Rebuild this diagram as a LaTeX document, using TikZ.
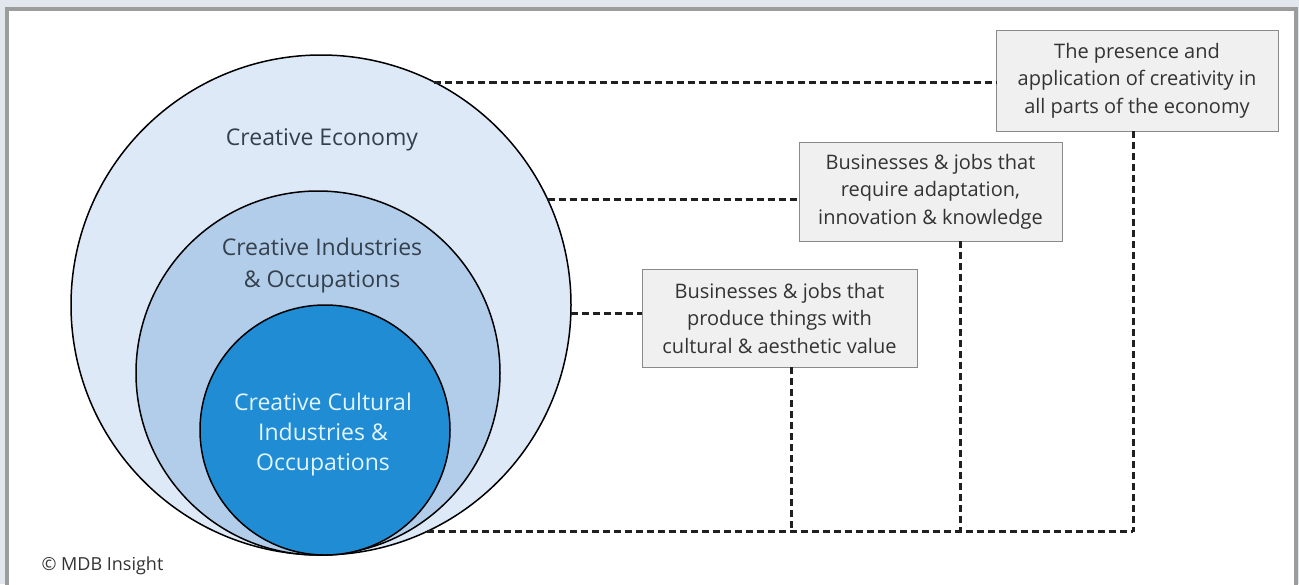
\documentclass[tikz,border=0pt]{standalone}
\usepackage{fontspec}
\setmainfont{Open Sans}
\usetikzlibrary{calc}
\usepackage{xcolor}
\definecolor{pagebg}{HTML}{E1E7EC}
\definecolor{framecol}{HTML}{9C9C9C}
\definecolor{econfill}{HTML}{DDE9F6}
\definecolor{indfill}{HTML}{B2CDE9}
\definecolor{culfill}{HTML}{1F8CD4}
\definecolor{ringtext}{HTML}{34404C}
\definecolor{cultext}{HTML}{E2F4FF}
\definecolor{boxfill}{HTML}{F0F0F1}
\definecolor{boxline}{HTML}{8A8A8A}
\definecolor{notetext}{HTML}{333333}
\definecolor{linkcol}{HTML}{202020}

\begin{document}
\begin{tikzpicture}[x=1pt, y=-1pt,
  ring/.style={circle, draw=black, line width=1.5, inner sep=0, outer sep=0},
  label/.style={text=ringtext, align=center, font=\fontsize{23}{32}\selectfont},
  note/.style={draw=boxline, fill=boxfill, line width=1, align=center, inner sep=0, outer sep=0,
    text=notetext, font=\fontsize{20}{27.5}\selectfont},
  link/.style={draw=linkcol, line width=3, dash pattern=on 7pt off 4pt}]
\useasboundingbox (0,0) rectangle (1299,584);
\fill[pagebg] (0,0) rectangle (1299,584);
\draw[framecol, line width=4, fill=white] (7,9) rectangle (1296,600);

% nested circles
\node[ring, fill=econfill, minimum size=500] (economy) at (321,305) {};
\node[ring, fill=indfill, minimum size=364] (industries) at (318,373) {};
\node[ring, fill=culfill, minimum size=250] (cultural) at (325,430) {};

\node[label] (econlabel) at (322,140) {Creative Economy};
\node[label] (indlabel) at (322,266) {Creative Industries\\\& Occupations};
\node[label, text=cultext, font=\fontsize{23}{30}\selectfont] (cullabel) at (323,435) {Creative Cultural\\Industries \&\\Occupations};

% descriptions
\node[note, minimum width=282, minimum height=101] (wide) at (1137,80.5) {The presence and\\application of creativity in\\all parts of the economy};
\node[note, minimum width=263, minimum height=99] (mid) at (930.5,191.5) {Businesses \& jobs that\\require adaptation,\\innovation \& knowledge};
\node[note, minimum width=275, minimum height=98] (core) at (779.5,318) {Businesses \& jobs that\\produce things with\\cultural \& aesthetic value};

\foreach \b/\a in {wide/63, mid/25, core/-2}
  \draw[link] (economy.\a) -- (economy.\a -| \b.west);
\coordinate (corner) at (1133,532);
\draw[link] (economy.-65) -- (economy.-65 -| corner);
\foreach \b/\x in {wide/1133, mid/960, core/791}
  \draw[link] (\b.south -| \x,0) -- (\x,532);

\node[anchor=west, text=notetext, font=\fontsize{18}{20}\selectfont] (credit) at (38,566) {© MDB Insight};
\end{tikzpicture}
\end{document}
